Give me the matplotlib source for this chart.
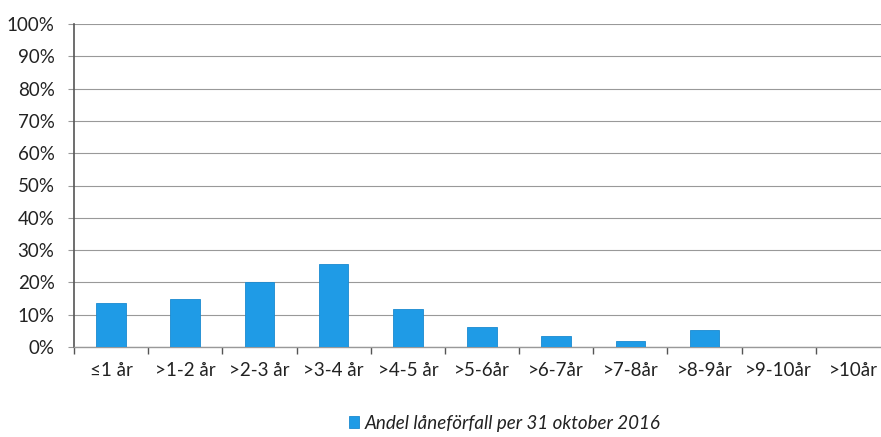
import matplotlib.pyplot as plt
from matplotlib.ticker import PercentFormatter

categories = ["≤1 år", ">1-2 år", ">2-3 år", ">3-4 år", ">4-5 år", ">5-6år",
              ">6-7år", ">7-8år", ">8-9år", ">9-10år", ">10år"]
shares = [13.5, 15.0, 20.0, 25.8, 11.7, 6.2, 3.4, 1.8, 5.2, 0.0, 0.0]
series_name = "Andel låneförfall per 31 oktober 2016"

plt.rcParams['font.family'] = ['Lato', 'DejaVu Sans']

fig = plt.figure(figsize=(8.81, 4.37), dpi=100)
# axes run a bit past the right edge, the last category is cut off
ax = fig.add_axes([74 / 881, 1 - 347 / 437, 816 / 881, 323 / 437])

x = list(range(len(categories)))
ax.bar(x, shares, width=0.4, color="#1f9be6", edgecolor="#1a8ad0",
       linewidth=0.6, label=series_name, zorder=3)

ax.set_xlim(-0.5, len(categories) - 0.5)
ax.set_ylim(0, 100)
ax.set_yticks(range(0, 101, 10))
ax.yaxis.set_major_formatter(PercentFormatter(decimals=0))
ax.grid(axis="y", color="#999999", linewidth=0.8, zorder=0)

ax.set_xticks(x)
ax.set_xticklabels(categories)
ax.tick_params(axis="x", length=0, pad=11, labelsize=13.5, colors="#222222")
ax.set_xticks([i + 0.5 for i in x[:-1]] + [-0.5], minor=True)
ax.tick_params(axis="x", which="minor", length=5, width=1, color="#555555")
ax.tick_params(axis="y", length=4, width=0.8, color="#999999", pad=10,
               labelsize=13.5, labelcolor="#222222")

for s in ["top", "right"]:
    ax.spines[s].set_visible(False)
ax.spines["left"].set_color("#555555")
ax.spines["left"].set_linewidth(1.2)
ax.spines["bottom"].set_color("#999999")
ax.spines["bottom"].set_linewidth(1.0)

leg = fig.legend(loc="center", bbox_to_anchor=(505 / 881, 1 - 423 / 437),
                 frameon=False, handlelength=0.55, handleheight=0.55,
                 handletextpad=0.3, prop={"style": "italic", "size": 13.5})
for t in leg.get_texts():
    t.set_color("#222222")

fig.savefig("out.png", dpi=100)
